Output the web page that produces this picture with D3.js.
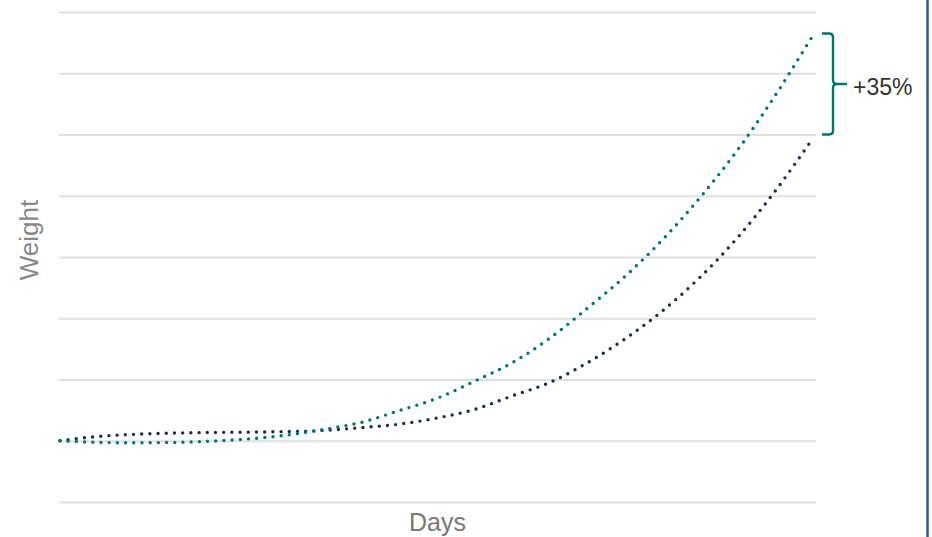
<!DOCTYPE html>
<html>
<head>
<meta charset="utf-8">
<script src="https://cdn.jsdelivr.net/npm/d3@7"></script>
<style>
html,body{margin:0;padding:0;background:#fff;}
svg{display:block;}
</style>
</head>
<body>
<svg id="chart" width="932" height="537"></svg>
<script>
// ---- data ----
const days = [0,5,10,15,20,25,30,35,40,45,50,55,60,65,70,75,80,85,90,95,100];
const seriesBaseline = [1.00,1.07,1.105,1.125,1.135,1.14,1.15,1.167,1.215,1.27,1.37,1.51,1.73,1.95,2.27,2.66,3.12,3.67,4.32,5.08,5.94];
const seriesImproved = [1.00,0.973,0.968,0.972,0.993,1.03,1.09,1.185,1.30,1.49,1.69,1.97,2.27,2.67,3.16,3.68,4.28,4.97,5.75,6.64,7.62];
const gridValues = [0,1,2,3,4,5,6,7,8];
const bracketRange = [6.0, 7.65];
const bracketLabel = "+35%";
const xLabel = "Days";
const yLabel = "Weight";

// ---- chart ----
const svg = d3.select("#chart");
const x = d3.scaleLinear().domain([0,100]).range([60,813]);
const y = d3.scaleLinear().domain([0,8]).range([502,12]);

// gridlines via axis
const g = svg.append("g").attr("transform","translate(816,0)")
  .call(d3.axisRight(y).tickValues(gridValues).tickSize(-(816-59)).tickFormat(""));
g.select(".domain").remove();
g.selectAll(".tick line").attr("stroke","#e0e0e0").attr("stroke-width",2);

const line = d3.line().x((d,i)=>x(days[i])).y(d=>y(d)).curve(d3.curveCatmullRom.alpha(0.5));

svg.append("path").datum(seriesBaseline)
  .attr("d",line).attr("fill","none").attr("stroke","#1f2b47")
  .attr("stroke-width",3.4).attr("stroke-linecap","round").attr("stroke-dasharray","0,8.2");
svg.append("path").datum(seriesImproved)
  .attr("d",line).attr("fill","none").attr("stroke","#00756f")
  .attr("stroke-width",3.4).attr("stroke-linecap","round").attr("stroke-dasharray","0,8.2");

// bracket
const yb = y(bracketRange[0]), yt = y(bracketRange[1]), ym = (yb+yt)/2;
const bx = 833, r = 4;
const bp = d3.path();
bp.moveTo(822, yt);
bp.lineTo(bx-r, yt);
bp.quadraticCurveTo(bx, yt, bx, yt+r);
bp.lineTo(bx, ym-r);
bp.quadraticCurveTo(bx, ym, bx+r, ym);
bp.lineTo(847, ym);
bp.moveTo(bx+r, ym);
bp.quadraticCurveTo(bx, ym, bx, ym+r);
bp.lineTo(bx, yb-r);
bp.quadraticCurveTo(bx, yb, bx-r, yb);
bp.lineTo(822, yb);
svg.append("path").attr("d",bp.toString()).attr("fill","none")
  .attr("stroke","#00756f").attr("stroke-width",2.4);

svg.append("text").attr("x",853).attr("y",ym+11)
  .attr("font-family","Liberation Sans, Arial, sans-serif").attr("font-size",23)
  .attr("fill","#333").text(bracketLabel);

// axis labels
svg.append("text").attr("x",437.5).attr("y",531)
  .attr("text-anchor","middle").attr("font-family","Liberation Sans, Arial, sans-serif")
  .attr("font-size",25).attr("fill","#777").text(xLabel);
svg.append("text").attr("transform","translate(37.5,240) rotate(-90)")
  .attr("text-anchor","middle").attr("font-family","Liberation Sans, Arial, sans-serif")
  .attr("font-size",26).attr("fill","#888").text(yLabel);

// right border line
svg.append("line").attr("x1",927.5).attr("x2",927.5).attr("y1",0).attr("y2",537)
  .attr("stroke","#3056a6").attr("stroke-width",2.5);
</script>
</body>
</html>
